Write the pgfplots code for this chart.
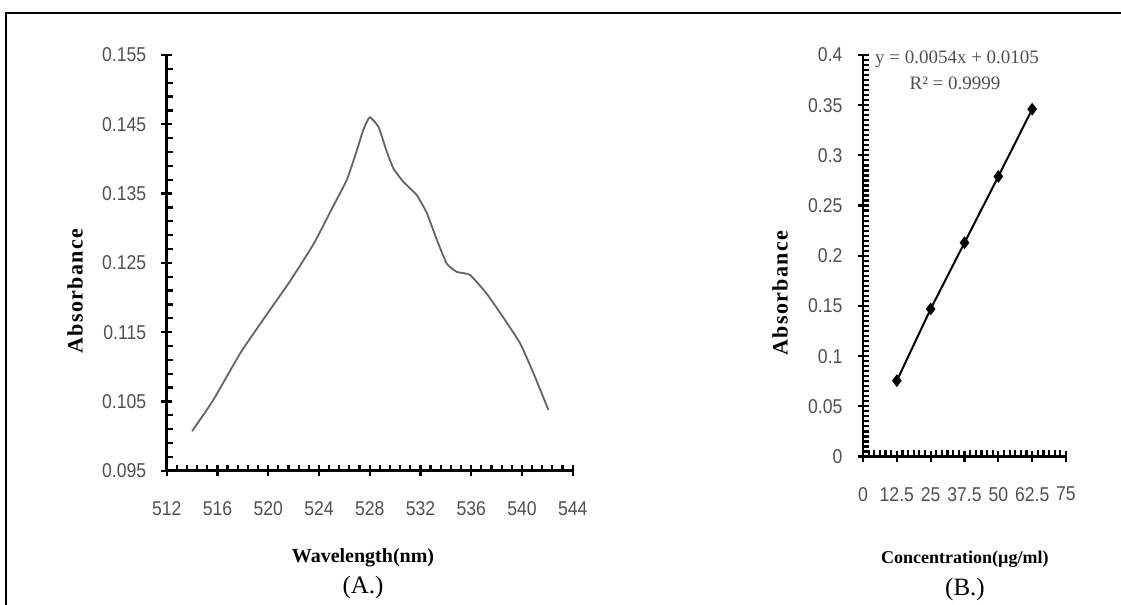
\documentclass[border=0pt]{standalone}
\usepackage{pgfplots}
\pgfplotsset{compat=1.18}
\usepackage{fontspec}
\setmainfont{Liberation Serif}
\newfontfamily\tickfont[FakeStretch=0.88]{Liberation Sans}
\definecolor{ticklab}{RGB}{80,80,80}
\definecolor{curve}{RGB}{100,100,100}

\pgfplotsset{
  chartaxis/.style={
    scale only axis,
    axis lines=left,
    axis line style={-, line width=1.4pt, black},
    every outer x axis line/.append style={-},
    every outer y axis line/.append style={-},
    tick align=center,
    major tick length=5.5pt,
    minor tick length=3pt,
    major tick style={black, line width=1.1pt},
    minor tick style={black, line width=1.1pt},
    minor x tick style={yshift=1.5pt},
    minor y tick style={xshift=1.5pt},
    scaled ticks=false,
    ticklabel style={font=\tickfont\fontsize{10}{12}\selectfont, text=ticklab},
    /pgf/number format/assume math mode=true,
    xticklabel shift=9pt,
    yticklabel shift=4pt,
    label style={font=\bfseries, anchor=center},
    clip=false,
  }
}

\begin{document}
\begin{tikzpicture}
\useasboundingbox (0,0) rectangle (560.5pt,302.5pt);
% frame (top and left edges)
\draw[line width=1pt] (3pt,0pt) -- (3pt,296pt) -- (560.5pt,296pt);

% (A.) absorption spectrum
\begin{axis}[chartaxis,
    at={(83.35pt,67.15pt)}, anchor=south west,
    width=203pt, height=207.85pt,
    xmin=512, xmax=544, ymin=0.095, ymax=0.155,
    xtick={512,516,520,524,528,532,536,540,544},
    ytick={0.095,0.105,0.115,0.125,0.135,0.145,0.155},
    minor x tick num=4, minor y tick num=4,
    yticklabel style={/pgf/number format/fixed, /pgf/number format/precision=3},
    xlabel={Wavelength(nm)},
    xlabel style={at={(axis description cs:0.4835,-0.21)}, font=\bfseries\fontsize{10}{12}\selectfont},
    ylabel={Absorbance},
    ylabel style={at={(axis description cs:-0.2259,0.432)}, font=\bfseries\fontsize{11}{13}\selectfont\addfontfeatures{LetterSpace=6}},
]
\addplot[curve, line width=0.9pt, smooth, tension=0.3, no marks] coordinates {
    (514.0,0.1007) (515.67,0.1052) (517.78,0.1119) (519.6,0.1168)
    (521.7,0.1223) (523.6,0.1278) (525.1,0.1331) (526.2,0.1370)
    (527.0,0.1413) (527.5,0.1442) (528.0,0.1460) (528.7,0.1446)
    (529.3,0.1413) (529.86,0.13865) (530.65,0.1367) (531.7,0.1348)
    (532.5,0.1322) (533.3,0.1283) (534.07,0.1249) (534.86,0.1237)
    (535.9,0.12325) (537.2,0.1206) (538.5,0.1172) (539.85,0.1134)
    (540.9,0.1091) (542.08,0.1038)
};
\end{axis}

% (B.) calibration line
\begin{axis}[chartaxis,
    at={(431.5pt,74.25pt)}, anchor=south west,
    width=101.5pt, height=200.75pt,
    xmin=0, xmax=75, ymin=0, ymax=0.4,
    xtick={0,12.5,25,37.5,50,62.5,75},
    ytick={0,0.05,0.1,0.15,0.2,0.25,0.3,0.35,0.4},
    minor x tick num=5, minor y tick num=9,
    yticklabel style={/pgf/number format/fixed, /pgf/number format/precision=2},
    xticklabel style={/pgf/number format/fixed, /pgf/number format/precision=1},
    xlabel={Concentration(µg/ml)},
    xlabel style={at={(axis description cs:0.502,-0.255)}, font=\bfseries\fontsize{9}{11}\selectfont},
    ylabel={Absorbance},
    ylabel style={at={(axis description cs:-0.409,0.407)}, font=\bfseries\fontsize{11}{13}\selectfont\addfontfeatures{LetterSpace=6}},
]
\addplot[black, line width=1pt, mark=diamond*, mark size=2.4pt] coordinates {
    (12.5,0.0755) (25,0.147) (37.5,0.213) (50,0.279) (62.5,0.346)
};
\end{axis}

% trendline equation and panel captions
\node[text=ticklab, font=\fontsize{9.5}{11}\selectfont] at (478.5pt,273pt) {y = 0.0054x + 0.0105};
\node[text=ticklab, font=\fontsize{9.5}{11}\selectfont] at (477.5pt,261pt) {R² = 0.9999};
\node[font=\fontsize{12.5}{14}\selectfont] at (181.5pt,9pt) {(A.)};
\node[font=\fontsize{12.5}{14}\selectfont] at (482.5pt,8pt) {(B.)};
\end{tikzpicture}
\end{document}
